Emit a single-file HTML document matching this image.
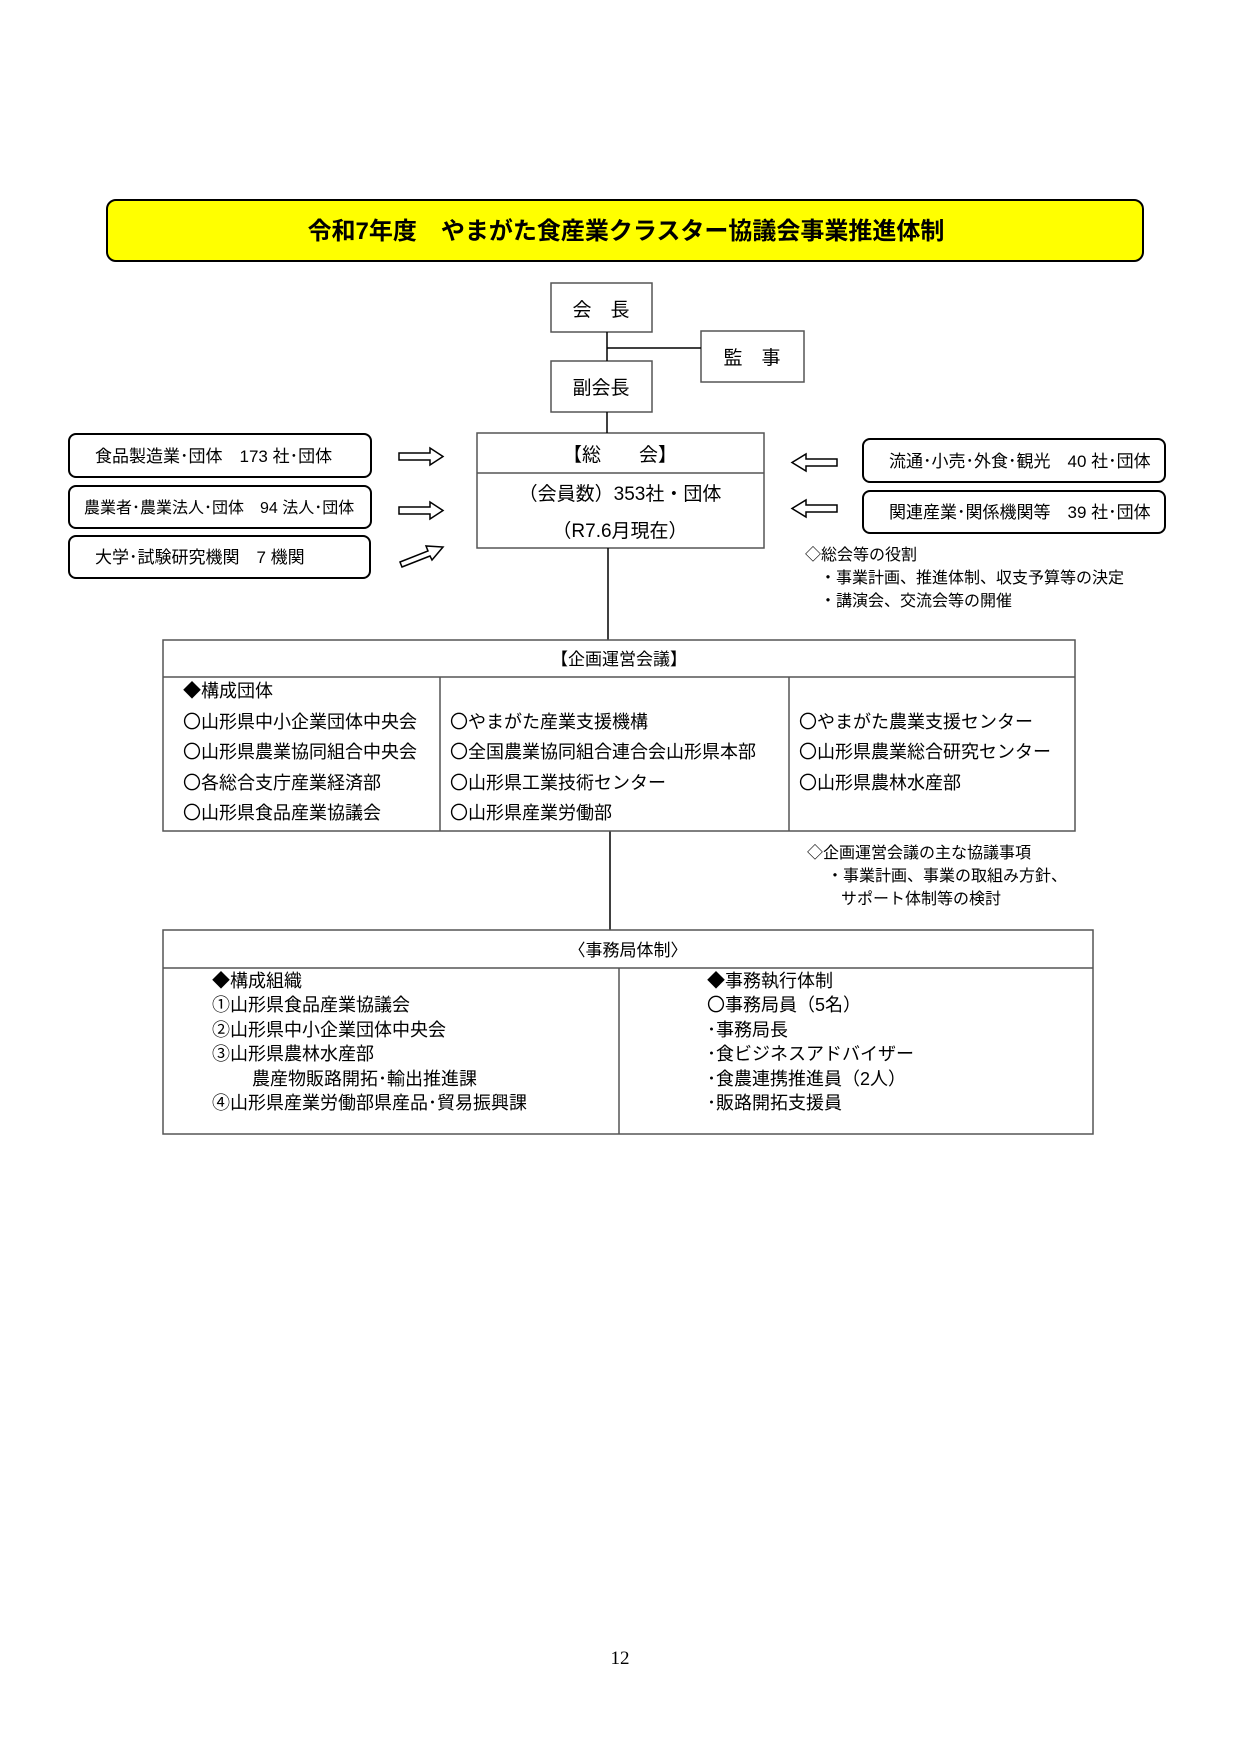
<!DOCTYPE html>
<html><head><meta charset="utf-8"><style>
html,body{margin:0;padding:0;background:#fff}
svg{display:block}
text{font-family:"Liberation Sans","Noto Sans CJK JP",sans-serif;fill:#000}
</style></head><body>
<svg width="1241" height="1755" viewBox="0 0 1241 1755" xmlns="http://www.w3.org/2000/svg">
<rect x="107" y="200" width="1036" height="61" rx="9" fill="#ffff00" stroke="#000" stroke-width="2"/>
<text x="626" y="239" font-size="24" font-weight="bold" text-anchor="middle">令和7年度　やまがた食産業クラスター協議会事業推進体制</text>

<g stroke="#555" stroke-width="1.5" fill="#fff">
<rect x="551" y="283" width="101" height="49"/>
<rect x="701" y="331" width="103" height="51"/>
<rect x="551" y="361" width="101" height="51"/>
<rect x="477" y="433" width="287" height="115"/>
<line x1="477" y1="473" x2="764" y2="473"/>
</g>
<g stroke="#000" stroke-width="1.5">
<line x1="607" y1="332" x2="607" y2="361"/>
<line x1="607" y1="348" x2="701" y2="348"/>
<line x1="607" y1="412" x2="607" y2="433"/>
<line x1="608" y1="548" x2="608" y2="640"/>
<line x1="610" y1="831" x2="610" y2="930"/>
</g>
<text x="601" y="316" font-size="19" text-anchor="middle">会　長</text>
<text x="752" y="364" font-size="19" text-anchor="middle">監　事</text>
<text x="601" y="394" font-size="19" text-anchor="middle">副会長</text>
<text x="620" y="461" font-size="19" text-anchor="middle">【総　　会】</text>
<text x="620" y="500" font-size="19" text-anchor="middle">（会員数）353社・団体</text>
<text x="620" y="537" font-size="19" text-anchor="middle">（R7.6月現在）</text>

<g stroke="#000" stroke-width="2" fill="#fff">
<rect x="69" y="434" width="302" height="43" rx="7"/>
<rect x="69" y="486" width="302" height="42" rx="7"/>
<rect x="69" y="536" width="301" height="42" rx="7"/>
<rect x="863" y="439" width="302" height="43" rx="7"/>
<rect x="863" y="491" width="302" height="42" rx="7"/>
</g>
<g font-size="17">
<text x="95" y="462">食品製造業･団体　173 社･団体</text>
<text x="84" y="513" font-size="16">農業者･農業法人･団体　94 法人･団体</text>
<text x="95" y="563">大学･試験研究機関　7 機関</text>
<text x="889" y="467">流通･小売･外食･観光　40 社･団体</text>
<text x="889" y="518">関連産業･関係機関等　39 社･団体</text>
</g>
<g stroke="#000" stroke-width="1.5" fill="#fff">
<polygon points="399,453 430,453 430,448 443,456.5 430,465 430,460 399,460"/>
<polygon points="399,507 430,507 430,502 443,510.5 430,519 430,514 399,514"/>
<polygon points="400,562 428,551 426,546 443,547 432,560 430,556 402,567" />
<polygon points="837,459 806,459 806,454 792,462.5 806,471 806,466 837,466"/>
<polygon points="837,505 806,505 806,500 792,508.5 806,517 806,512 837,512"/>
</g>
<g font-size="16">
<text x="805" y="560">◇総会等の役割</text>
<text x="820" y="583">・事業計画、推進体制、収支予算等の決定</text>
<text x="820" y="606">・講演会、交流会等の開催</text>
</g>

<g stroke="#555" stroke-width="1.5" fill="none">
<rect x="163" y="640" width="912" height="191"/>
<line x1="163" y1="677" x2="1075" y2="677"/>
<line x1="440" y1="677" x2="440" y2="831"/>
<line x1="789" y1="677" x2="789" y2="831"/>
<rect x="163" y="930" width="930" height="204"/>
<line x1="163" y1="968" x2="1093" y2="968"/>
<line x1="619" y1="968" x2="619" y2="1134"/>
</g>
<g font-size="18">
<text x="619" y="665" text-anchor="middle" font-size="17">【企画運営会議】</text>
<text x="183" y="697">◆構成団体</text>
<text x="183" y="728">〇山形県中小企業団体中央会</text>
<text x="183" y="758">〇山形県農業協同組合中央会</text>
<text x="183" y="789">〇各総合支庁産業経済部</text>
<text x="183" y="819">〇山形県食品産業協議会</text>
<text x="450" y="728">〇やまがた産業支援機構</text>
<text x="450" y="758">〇全国農業協同組合連合会山形県本部</text>
<text x="450" y="789">〇山形県工業技術センター</text>
<text x="450" y="819">〇山形県産業労働部</text>
<text x="799" y="728">〇やまがた農業支援センター</text>
<text x="799" y="758">〇山形県農業総合研究センター</text>
<text x="799" y="789">〇山形県農林水産部</text>
</g>
<g font-size="16">
<text x="807" y="858">◇企画運営会議の主な協議事項</text>
<text x="827" y="881">・事業計画、事業の取組み方針、</text>
<text x="841" y="904">サポート体制等の検討</text>
</g>
<g font-size="18">
<text x="628" y="956" text-anchor="middle" font-size="17">〈事務局体制〉</text>
<text x="212" y="987">◆構成組織</text>
<text x="212" y="1011">①山形県食品産業協議会</text>
<text x="212" y="1036">②山形県中小企業団体中央会</text>
<text x="212" y="1060">③山形県農林水産部</text>
<text x="252" y="1085">農産物販路開拓･輸出推進課</text>
<text x="212" y="1109">④山形県産業労働部県産品･貿易振興課</text>
<text x="707" y="987">◆事務執行体制</text>
<text x="707" y="1011">〇事務局員（5名）</text>
<text x="707" y="1036">･事務局長</text>
<text x="707" y="1060">･食ビジネスアドバイザー</text>
<text x="707" y="1085">･食農連携推進員（2人）</text>
<text x="707" y="1109">･販路開拓支援員</text>
</g>
<text x="620" y="1664" font-size="19" text-anchor="middle" style="font-family:'Liberation Serif',serif">12</text>
</svg>
</body></html>
